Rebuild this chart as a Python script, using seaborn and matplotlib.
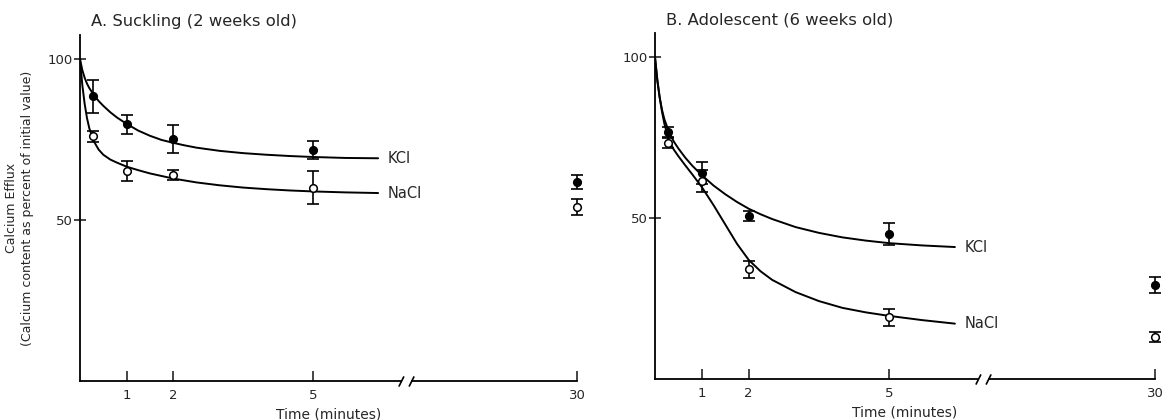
import numpy as np
import pandas as pd
import matplotlib
matplotlib.use("Agg")
import matplotlib.pyplot as plt
import seaborn as sns
from matplotlib.path import Path
import matplotlib.transforms as mtransforms

# ---------------- data ----------------
point_times = [0.27, 1, 2, 5, 30]

a_kcl = [88.4, 79.7, 75.1, 71.8, 61.7]
a_kcl_err = [5.2, 2.9, 4.3, 2.9, 2.2]
a_nacl = [76.0, 65.3, 64.1, 60.1, 54.1]
a_nacl_err = [1.7, 3.1, 1.5, 5.2, 2.6]

b_kcl = [76.7, 64.0, 50.6, 45.0, 29.2]
b_kcl_err = [1.5, 3.5, 1.5, 3.5, 2.5]
b_nacl = [73.3, 61.5, 34.1, 19.2, 13.1]
b_nacl_err = [1.5, 3.5, 2.7, 2.7, 1.5]

curve_times = [0, 0.05, 0.1, 0.15, 0.2, 0.3, 0.4, 0.5, 0.65, 0.8, 1, 1.25,
               1.5, 1.75, 2, 2.25, 2.5, 3, 3.5, 4, 4.5, 5, 5.7, 6.4]
a_kcl_curve = [100, 96.6, 94.2, 92.4, 91.0, 88.8, 87.0, 85.5, 83.5, 81.8, 79.9, 77.8,
               76.2, 74.9, 74.0, 73.2, 72.5, 71.5, 70.8, 70.3, 69.9, 69.6, 69.3, 69.2]
a_nacl_curve = [100, 91.9, 86.1, 81.7, 78.5, 74.4, 71.9, 70.3, 68.8, 67.8, 66.6, 65.5,
                64.5, 63.7, 62.9, 62.3, 61.7, 60.8, 60.1, 59.6, 59.2, 58.9, 58.6, 58.4]
b_kcl_curve = [100, 92.6, 87.4, 83.6, 80.7, 76.7, 73.8, 71.6, 68.7, 66.2, 63.3, 60.1,
               57.4, 55.0, 52.9, 51.2, 49.7, 47.2, 45.4, 44.0, 43.0, 42.2, 41.5, 41.0]
b_nacl_curve = [100, 93.0, 87.5, 83.0, 79.3, 74.0, 71.3, 69.2, 66.3, 63.5, 59.6, 54.0,
                48.0, 42.0, 37.0, 33.5, 30.8, 27.0, 24.2, 22.1, 20.7, 19.6, 18.3, 17.2]

x_ticks = [1, 2, 5, 30]
y_ticks = [50, 100]
titles = ["A. Suckling (2 weeks old)", "B. Adolescent (6 weeks old)"]
series_names = ["KCl", "NaCl"]
x_label = "Time (minutes)"
y_label = "Calcium Efflux\n(Calcium content as percent of initial value)"

# ---------------- style ----------------
sns.set_theme(style="ticks")
plt.rcParams["font.family"] = ["DejaVu Sans"]

BREAK = 7.0
K = (10.67 - BREAK) / 23.0


def fwd(x):
    x = np.asarray(x, dtype=float)
    return np.where(x <= BREAK, x, BREAK + (x - BREAK) * K)


def inv(y):
    y = np.asarray(y, dtype=float)
    return np.where(y <= BREAK, y, BREAK + (y - BREAK) / K)


fig = plt.figure(figsize=(11.64, 4.20), dpi=100)
ax_a = fig.add_axes([80 / 1164, 1 - 381 / 420, (577 - 80) / 1164, (381 - 35) / 420])
ax_b = fig.add_axes([655 / 1164, 1 - 379 / 420, (1155 - 655) / 1164, (379 - 33) / 420])

panels = [
    (ax_a, titles[0], (a_kcl, a_kcl_err, a_kcl_curve), (a_nacl, a_nacl_err, a_nacl_curve), True),
    (ax_b, titles[1], (b_kcl, b_kcl_err, b_kcl_curve), (b_nacl, b_nacl_err, b_nacl_curve), False),
]

break_marker = Path([(-3, -2), (-1, 2), (1, -2), (3, 2)],
                    [Path.MOVETO, Path.LINETO, Path.MOVETO, Path.LINETO])

for ax, title, kcl, nacl, show_ylabel in panels:
    ax.set_xscale("function", functions=(fwd, inv))
    for (vals, errs, curve), filled, name in zip((kcl, nacl), (True, False), series_names):
        cdf = pd.DataFrame({"t": curve_times, "v": curve})
        sns.lineplot(data=cdf, x="t", y="v", ax=ax, color="black", lw=1.4,
                     estimator=None, sort=False, legend=False)
        ax.errorbar(point_times, vals, yerr=errs, fmt="none", ecolor="black",
                    elinewidth=1.2, capsize=4, capthick=1.2, clip_on=False, zorder=3)
        pdf = pd.DataFrame({"t": point_times, "v": vals})
        sns.scatterplot(data=pdf, x="t", y="v", ax=ax, s=30,
                        color="black" if filled else "white",
                        edgecolor="black", linewidth=1.1, zorder=4, clip_on=False,
                        legend=False)
        ax.annotate(name, xy=(curve_times[-1], curve[-1]), xytext=(7, 0),
                    textcoords="offset points", va="center", ha="left", fontsize=10.5)

    ax.set_xlim(0, 30)
    ax.set_ylim(0, 107.5)
    ax.set_xticks(x_ticks)
    ax.set_xticklabels([str(t) for t in x_ticks])
    ax.set_yticks(y_ticks)
    ax.set_yticklabels([str(v) for v in y_ticks])
    ax.minorticks_off()
    ax.tick_params(axis="x", direction="in", length=7, width=1.2, pad=6, labelsize=9.5)
    ax.tick_params(axis="y", direction="inout", length=8, width=1.2, pad=1, labelsize=9.5)
    sns.despine(ax=ax)
    for sp in ("left", "bottom"):
        ax.spines[sp].set_linewidth(1.3)
        ax.spines[sp].set_color("black")
    ax.set_facecolor("white")
    ax.set_xlabel(x_label, fontsize=10, labelpad=4)
    if show_ylabel:
        ax.set_ylabel(y_label, fontsize=9, linespacing=1.3)
        ax.yaxis.set_label_coords(-0.093, 0.5)
    else:
        ax.set_ylabel("")
    ax.annotate(title, xy=(0, 1), xycoords="axes fraction", xytext=(8, 4),
                textcoords="offset points", ha="left", va="bottom", fontsize=11.8)
    # axis break mark on the time axis
    trans = mtransforms.blended_transform_factory(ax.transData, ax.transAxes)
    ax.plot([BREAK], [0], transform=trans, marker="s", ms=6, color="white",
            mec="white", clip_on=False, zorder=5)
    ax.plot([BREAK], [0], transform=trans, marker=break_marker, ms=11, color="black",
            mew=1.2, clip_on=False, zorder=6, ls="none")

fig.savefig("out.png", dpi=100, facecolor="white")
